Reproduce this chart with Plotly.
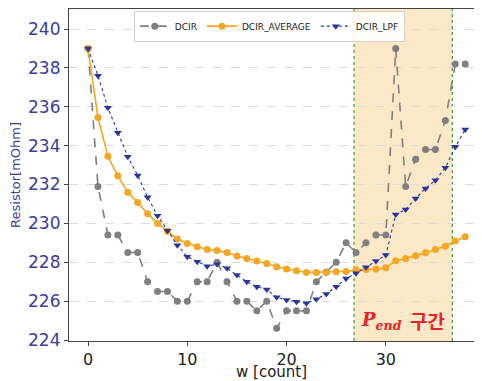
import plotly.graph_objects as go

w = list(range(39))
dcir = [239.0, 231.9, 229.4, 229.4, 228.5, 228.5, 227.0, 226.5, 226.5, 226.0,
        226.0, 227.0, 227.0, 228.0, 227.0, 226.0, 226.0, 225.5, 226.0, 224.6,
        225.5, 225.5, 225.5, 227.0, 227.5, 228.0, 229.0, 228.5, 229.0, 229.4,
        229.4, 239.0, 231.9, 233.3, 233.8, 233.8, 235.3, 238.2, 238.2]
dcir_avg = [239.0, 235.45, 233.45, 232.45, 231.6, 231.08, 230.5, 230.0, 229.6, 229.2,
            228.97, 228.8, 228.66, 228.6, 228.5, 228.32, 228.2, 228.06, 227.94, 227.77,
            227.65, 227.56, 227.48, 227.48, 227.48, 227.51, 227.53, 227.6, 227.63, 227.65,
            227.72, 228.08, 228.2, 228.33, 228.49, 228.66, 228.83, 229.09, 229.31]
dcir_lpf = [239.0, 237.6, 235.95, 234.66, 233.43, 232.47, 231.34, 230.4, 229.62, 228.88,
            228.28, 228.03, 227.8, 227.9, 227.69, 227.34, 227.0, 226.74, 226.6, 226.2,
            226.06, 225.97, 225.89, 226.1, 226.37, 226.74, 227.17, 227.43, 227.74, 228.06,
            228.37, 230.46, 230.72, 231.28, 231.8, 232.22, 232.86, 233.94, 234.83]
y_ticks = [224, 226, 228, 230, 232, 234, 236, 238, 240]
x_ticks = [0, 10, 20, 30]
pend_range = [26.8, 36.7]

fig = go.Figure()
fig.add_trace(go.Scatter(x=w, y=dcir, name="DCIR", mode="lines+markers",
                         line=dict(color="#808080", width=1.6, dash="dash"),
                         marker=dict(color="#808080", size=7, symbol="circle")))
fig.add_trace(go.Scatter(x=w, y=dcir_avg, name="DCIR_AVERAGE", mode="lines+markers",
                         line=dict(color="#F5A623", width=1.6),
                         marker=dict(color="#F5A623", size=7, symbol="circle")))
fig.add_trace(go.Scatter(x=w, y=dcir_lpf, name="DCIR_LPF", mode="lines+markers",
                         line=dict(color="#2B35A0", width=1.1, dash="dot"),
                         marker=dict(color="#2B35A0", size=7, symbol="triangle-down")))

fig.add_shape(type="rect", xref="x", yref="paper", x0=pend_range[0], x1=pend_range[1],
              y0=0, y1=1, fillcolor="#FBE8C6", line_width=0, layer="below")
for xv in pend_range:
    fig.add_shape(type="line", xref="x", yref="paper", x0=xv, x1=xv, y0=0, y1=1,
                  line=dict(color="#3C9A2C", width=1.2, dash="dot"), layer="below")

fig.add_annotation(x=pend_range[0] + 0.5, y=224.25, xref="x", yref="y",
                   xanchor="left", yanchor="bottom", showarrow=False,
                   text="<b><i>P</i></b><sub><b><i>end</i></b></sub>",
                   font=dict(family="DejaVu Serif", size=18, color="#E8242A"))
fig.add_annotation(x=pend_range[0] + 5.4, y=224.2, xref="x", yref="y",
                   xanchor="left", yanchor="bottom", showarrow=False,
                   text="<b>구간</b>",
                   font=dict(family="Noto Sans CJK KR", size=19, color="#E8242A"))

# axis titles as annotations for exact placement
fig.add_annotation(x=0.49, y=-0.094, xref="paper", yref="paper", xanchor="center", yanchor="middle",
                   showarrow=False, text="w [count]",
                   font=dict(family="DejaVu Sans", size=15, color="#222222"))
fig.add_annotation(x=-0.131, y=0.5, xref="paper", yref="paper", xanchor="center", yanchor="middle",
                   showarrow=False, text="Resistor[mOhm]", textangle=-90,
                   font=dict(family="DejaVu Sans", size=13, color="#3A3D9C"))

# the page body adds an 8px offset; the figure is sized to fill the remaining window
fig.update_layout(
    width=474, height=373,
    margin=dict(l=61, r=0, t=1, b=40),
    paper_bgcolor="white", plot_bgcolor="white",
    font=dict(family="DejaVu Sans", color="#222222"),
    showlegend=True,
    legend=dict(orientation="h", x=0.485, xanchor="center", y=0.995, yanchor="top",
                bgcolor="rgba(255,255,255,0.9)", bordercolor="#d0d0d0", borderwidth=1,
                font=dict(size=9, color="#222222"), itemwidth=30,
                tracegroupgap=0),
)
fig.update_xaxes(range=[-1.92, 39.69], tickvals=x_ticks, showgrid=False, zeroline=False,
                 automargin=False,
                 showline=True, linecolor="#444444", linewidth=1.2, mirror=True,
                 ticks="outside", ticklen=4, tickcolor="#444444",
                 tickfont=dict(size=16, color="#222222"))
fig.update_yaxes(range=[223.95, 241.03], tickvals=y_ticks, showgrid=True,
                 automargin=False,
                 gridcolor="#DCDCDC", griddash="dash", gridwidth=1, zeroline=False,
                 showline=True, linecolor="#444444", linewidth=1.2,
                 ticks="outside", ticklen=4, tickcolor="#444444",
                 tickfont=dict(size=17, color="#3A3D9C"))

fig.write_html("out.html")
